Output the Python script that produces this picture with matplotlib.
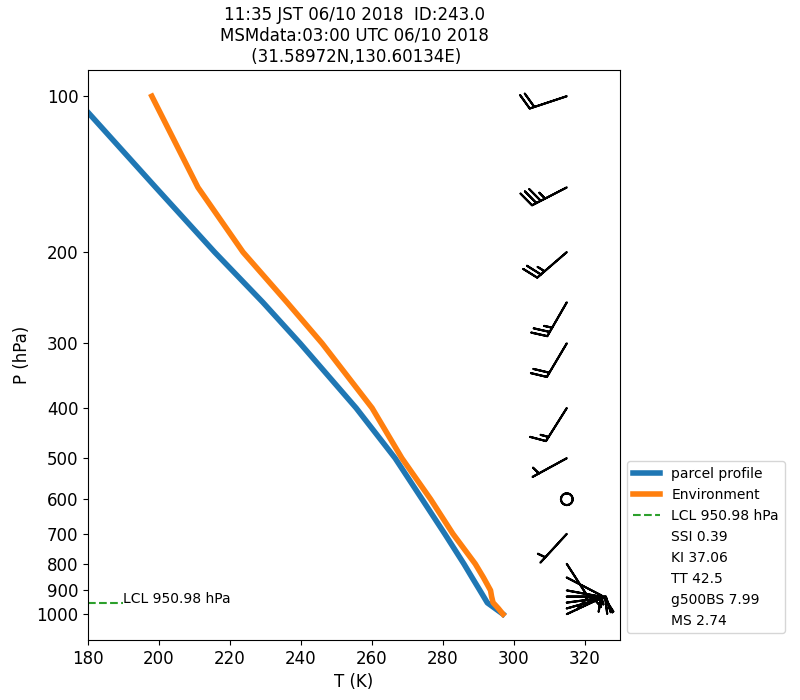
import numpy as np
import matplotlib.pyplot as plt
from matplotlib.ticker import NullLocator

plt.rcParams['font.size'] = 12

# pressure levels (hPa)
env_p = [1000, 975, 950, 925, 900, 850, 800, 700, 600, 500, 400, 300, 250, 200, 150, 100]
env_t = [297.0, 295.7, 294.2, 293.8, 293.5, 291.5, 289.2, 282.9, 276.6, 268.5, 260.1, 246.0, 236.1, 223.7, 211.0, 198.0]

parcel_p = [1000, 950.98, 900, 850, 800, 700, 600, 500, 400, 300, 250, 200, 150, 100]
parcel_t = [297.0, 292.6, 290.5, 288.3, 286.0, 280.6, 274.2, 266.6, 255.6, 239.8, 229.3, 215.7, 199.1, 175.9]

lcl_p = 950.98

# wind barbs
wind_p = [100, 150, 200, 250, 300, 400, 500, 600, 700, 800, 850, 900, 925, 950, 975, 1000]
wind_u = [19.0, 31.1, 18.9, 12.5, 10.2, 8.0, 4.4, 0.0, 3.4, -5.4, -8.9, -14.7, -15.0, -9.9, -9.6, -4.5]
wind_v = [6.3, 16.0, 16.3, 21.7, 17.2, 12.7, 2.4, 0.0, 3.7, 8.4, 4.6, 2.7, 0.0, -1.3, -2.7, -2.1]

indices = ["SSI 0.39", "KI 37.06", "TT 42.5", "g500BS 7.99", "MS 2.74"]

fig = plt.figure(figsize=(8, 7), dpi=100)
ax = fig.add_axes([0.11, 0.0857, 0.665, 0.8143])

ax.plot(parcel_t, parcel_p, color="tab:blue", lw=4, label="parcel profile")
ax.plot(env_t, env_p, color="tab:orange", lw=4, label="Environment")
ax.plot([180, 190], [lcl_p, lcl_p], "--", color="tab:green", lw=1.5,
        label="LCL %.2f hPa" % lcl_p)
ax.text(190, lcl_p, "LCL %.2f hPa" % lcl_p, fontsize=10)
for s in indices:
    ax.plot([], [], " ", label=s)

ax.barbs([315] * len(wind_p), wind_p, wind_u, wind_v, length=7.5, lw=1.5)

ax.set_yscale("log")
ax.set_ylim(1122, 89)
ax.set_xlim(180, 330)
ticks = [100, 200, 300, 400, 500, 600, 700, 800, 900, 1000]
ax.set_yticks(ticks)
ax.set_yticklabels([str(t) for t in ticks])
ax.yaxis.set_minor_locator(NullLocator())
ax.set_xlabel("T (K)")
ax.set_ylabel("P (hPa)")
ax.set_title("11:35 JST 06/10 2018  ID:243.0\nMSMdata:03:00 UTC 06/10 2018\n (31.58972N,130.60134E)",
             fontsize=12)
ax.legend(loc="lower left", bbox_to_anchor=(1, 0), fontsize=10)

fig.savefig("out.png", dpi=100)
